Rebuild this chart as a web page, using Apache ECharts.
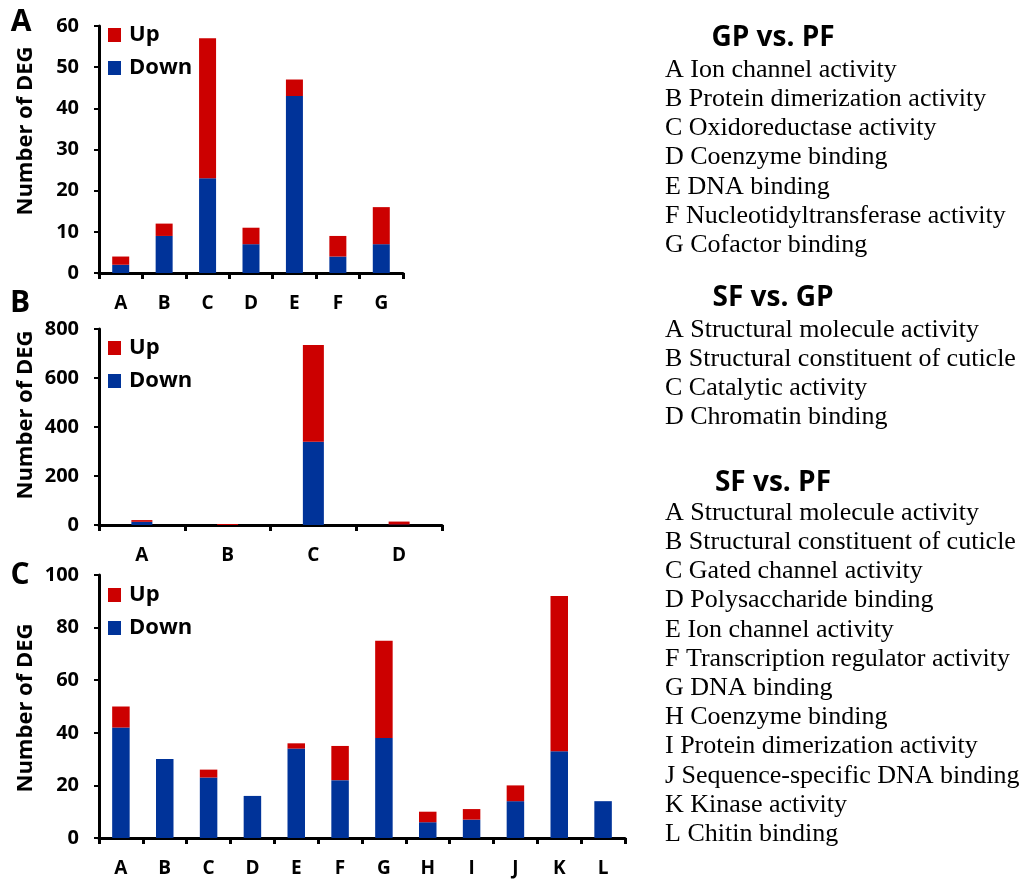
<!DOCTYPE html>
<html>
<head>
<meta charset="utf-8">
<script src="https://cdn.jsdelivr.net/npm/echarts@6/dist/echarts.min.js"></script>
<style>
html,body{margin:0;padding:0;background:#fff;}
#chart{width:1022px;height:881px;}
</style>
</head>
<body>
<div id="chart"></div>
<script>
// ---- Data ----
const catsA = ['A','B','C','D','E','F','G'];
const downA = [2, 9, 23, 7, 43, 4, 7];
const upA   = [2, 3, 34, 4, 4, 5, 9];

const catsB = ['A','B','C','D'];
const downB = [13, 0, 340, 2];
const upB   = [7, 4, 395, 12];

const catsC = ['A','B','C','D','E','F','G','H','I','J','K','L'];
const downC = [42, 30, 23, 16, 34, 22, 38, 6, 7, 14, 33, 14];
const upC   = [8, 0, 3, 0, 2, 13, 37, 4, 4, 6, 59, 0];

const yTicksA = [0, 60, 10];
const yTicksB = [0, 800, 200];
const yTicksC = [0, 100, 20];

const yName = 'Number of DEG';
const titleA = 'GP vs. PF';
const titleB = 'SF vs. GP';
const titleC = 'SF vs. PF';
const descA = ['Ion channel activity','Protein dimerization activity','Oxidoreductase activity','Coenzyme binding','DNA binding','Nucleotidyltransferase activity','Cofactor binding'];
const descB = ['Structural molecule activity','Structural constituent of cuticle','Catalytic activity','Chromatin binding'];
const descC = ['Structural molecule activity','Structural constituent of cuticle','Gated channel activity','Polysaccharide binding','Ion channel activity','Transcription regulator activity','DNA binding','Coenzyme binding','Protein dimerization activity','Sequence-specific DNA binding','Kinase activity','Chitin binding'];

// ---- Styles ----
const RED = '#CC0000', BLUE = '#003399';
const SANS = '"Open Sans", sans-serif';
const SERIF = '"Liberation Serif", "Times New Roman", serif';

const grids = [
  {left: 99, top: 26, width: 304, height: 247},
  {left: 99, top: 329, width: 343, height: 196},
  {left: 99, top: 575, width: 526, height: 263}
];
const ticks = [yTicksA, yTicksB, yTicksC];
const cats = [catsA, catsB, catsC];
const downs = [downA, downB, downC];
const ups = [upA, upB, upC];
const barW = [17, 21, 17.5];

const axisLine = {show: true, lineStyle: {color: '#000', width: 3}};
const xAxis = cats.map((c, i) => ({
  type: 'category', gridIndex: i, data: c,
  axisLine: axisLine,
  axisTick: {show: true, alignWithLabel: false, length: 6, lineStyle: {color: '#000', width: 3}},
  axisLabel: {color: '#000', fontFamily: SANS, fontWeight: 'bold', fontSize: 19, margin: 21}
}));
const yAxis = ticks.map((t, i) => ({
  type: 'value', gridIndex: i, min: t[0], max: t[1], interval: t[2],
  axisLine: axisLine,
  axisTick: {show: true, length: 5, lineStyle: {color: '#000', width: 2}},
  splitLine: {show: false},
  axisLabel: {color: '#000', fontFamily: SANS, fontWeight: 'bold', fontSize: 20, margin: 20}
}));
const series = [];
cats.forEach((c, i) => {
  series.push({name: 'Down', type: 'bar', stack: 's' + i, xAxisIndex: i, yAxisIndex: i,
    data: downs[i], barWidth: barW[i], itemStyle: {color: BLUE}});
  series.push({name: 'Up', type: 'bar', stack: 's' + i, xAxisIndex: i, yAxisIndex: i,
    data: ups[i], barWidth: barW[i], itemStyle: {color: RED}});
});
const legendTops = [19, 332, 579];
const legend = legendTops.map(t => ({
  data: ['Up', 'Down'], orient: 'vertical', left: 103, top: t, itemGap: 11,
  icon: 'rect', itemWidth: 13, itemHeight: 14, selectedMode: false,
  textStyle: {color: '#000', fontFamily: SANS, fontWeight: 'bold', fontSize: 22, padding: [0,0,0,3]}
}));

// graphic texts
const graphic = [];
const panelLabels = [['A', 21, 22], ['B', 20, 303], ['C', 20, 575]];
panelLabels.forEach(p => graphic.push({type: 'text', x: p[1], y: p[2],
  style: {text: p[0], fill: '#000', font: 'bold 30px ' + SANS, textAlign: 'center', textVerticalAlign: 'middle'}}));
// y-axis names (rotated)
[[26, 131], [26, 415], [26, 708]].forEach(p => graphic.push({type: 'text', x: p[0], y: p[1], rotation: Math.PI / 2,
  style: {text: yName, fill: '#000', font: 'bold 22px ' + SANS, textAlign: 'center', textVerticalAlign: 'middle'}}));
function block(title, catsArr, desc, ty, y0) {
  graphic.push({type: 'text', x: 773, y: ty,
    style: {text: title, fill: '#000', font: 'bold 28px ' + SANS, textAlign: 'center', textVerticalAlign: 'middle'}});
  desc.forEach((d, k) => graphic.push({type: 'text', x: 665, y: y0 + k * 29.2,
    style: {text: catsArr[k] + ' ' + d, fill: '#000', font: '26px ' + SERIF, textAlign: 'left', textVerticalAlign: 'middle'}}));
}
block(titleA, catsA, descA, 38, 70);
block(titleB, catsB, descB, 298, 330);
block(titleC, catsC, descC, 483, 513);

const chart = echarts.init(document.getElementById('chart'));
chart.setOption({
  animation: false,
  backgroundColor: '#fff',
  grid: grids,
  xAxis: xAxis,
  yAxis: yAxis,
  legend: legend,
  series: series,
  graphic: graphic
});
</script>
</body>
</html>
